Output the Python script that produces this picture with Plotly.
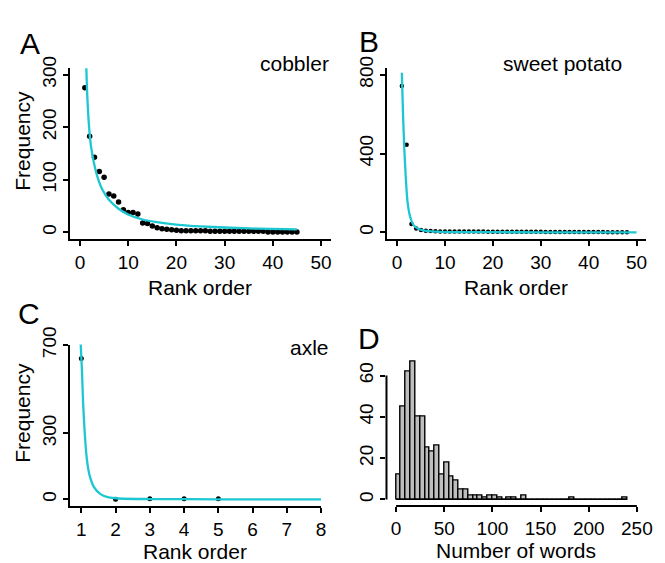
import plotly.graph_objects as go

W, H = 665, 563

# ---------------- data ----------------
# Panel A: cobbler
rank_a = list(range(1, 46))
freq_a = [275, 183, 143, 116, 105, 73, 69, 58, 43, 38,
          38, 35, 18, 17, 12, 9, 7, 6, 5, 4,
          3, 3, 3, 3, 3, 3, 2, 2, 2, 2,
          2, 2, 2, 2, 2, 2, 2, 2, 1, 1,
          1, 1, 1, 1, 1]
fit_a_x = [1.25, 1.5, 1.85, 2.25, 2.9, 3.6, 4.6, 6, 8, 10, 12.8, 16.3, 20.4, 25, 30, 37, 45]
fit_a_y = [330, 262, 205, 166, 132, 106, 82, 62, 45, 34, 25, 19, 14.5, 11.5, 9.3, 7.2, 5.8]

# Panel B: sweet potato
rank_b = list(range(1, 49))
freq_b = [742, 445, 43, 20, 12, 9, 7, 6, 5, 5,
          5, 4, 4, 4, 4, 4, 4, 4, 3, 3,
          3, 3, 3, 3, 3, 3, 3, 3, 3, 3,
          2, 2, 2, 2, 2, 2, 2, 2, 2, 2,
          2, 2, 2, 1, 1, 1, 1, 1]
fit_b_x = [1, 1.25, 1.5, 1.85, 2.2, 2.75, 3.45, 4.5, 6, 9, 15, 25, 35, 50]
fit_b_y = [810, 597, 432, 267, 152, 78, 37, 17, 8, 3, 1.5, 0.8, 0.5, 0.3]

# Panel C: axle
rank_c = [1, 2, 3, 4, 5]
freq_c = [640, 1, 3, 3, 3]
fit_c_x = [0.98, 1.02, 1.05, 1.1, 1.16, 1.24, 1.37, 1.56, 1.8, 2.1, 3, 5, 8]
fit_c_y = [710, 580, 445, 300, 185, 110, 56, 24, 9, 4, 1.5, 0.5, 0.3]

# Panel D: histogram of number of words (bin width 5)
bin_width = 5
bin_start = list(range(0, 240, 5))
bin_count = [12, 45, 62, 67, 40, 40, 25, 23, 26, 12,
             18, 11, 9, 5, 5, 2, 2, 2, 1, 2,
             2, 1, 0, 1, 1, 0, 2, 0, 0, 0,
             0, 0, 0, 0, 0, 0, 1, 0, 0, 0,
             0, 0, 0, 0, 0, 0, 0, 1]

labels = ["cobbler", "sweet potato", "axle"]
panel_letters = ["A", "B", "C", "D"]

# ---------------- style ----------------
CYAN = "#1CC7D2"
FONT = "Liberation Sans, Arial, sans-serif"
TICKF = 19
TITLEF = 21


def px(x):
    return x / W


def py(y):
    return 1 - y / H


fig = go.Figure()

# points + fits
for xa, ya, rk, fq, fx, fy, ms in [
    ("x", "y", rank_a, freq_a, fit_a_x, fit_a_y, 5.5),
    ("x2", "y2", rank_b, freq_b, fit_b_x, fit_b_y, 4.5),
    ("x3", "y3", rank_c, freq_c, fit_c_x, fit_c_y, 5),
]:
    fig.add_trace(go.Scatter(x=rk, y=fq, mode="markers", xaxis=xa, yaxis=ya,
                             marker=dict(color="black", size=ms), showlegend=False,
                             cliponaxis=False))
    fig.add_trace(go.Scatter(x=fx, y=fy, mode="lines", xaxis=xa, yaxis=ya,
                             line=dict(color=CYAN, width=2.3, shape="spline", smoothing=0.7),
                             showlegend=False))

# histogram
centers = [s + bin_width / 2 for s in bin_start]
fig.add_trace(go.Bar(x=centers, y=bin_count, width=bin_width, xaxis="x4", yaxis="y4",
                     marker=dict(color="#BEBEBE", line=dict(color="black", width=1.4)),
                     showlegend=False))
fig.add_trace(go.Scatter(x=[bin_start[0], bin_start[-1] + bin_width], y=[0, 0],
                         mode="lines", xaxis="x4", yaxis="y4",
                         line=dict(color="black", width=1.2), showlegend=False))

axis_common = dict(showgrid=False, zeroline=False, ticks="outside", ticklen=5,
                   tickwidth=2, tickcolor="black", linecolor="black", linewidth=2,
                   tickfont=dict(family=FONT, size=TICKF, color="black"))

# domains from pixel positions
dA_x = [px(71), px(333.7)]
dB_x = [px(391), px(652)]
dC_x = [px(71), px(324)]
dD_x = [px(390), px(652.4)]
dTop_y = [py(228), py(52)]
dC_y = [py(504), py(337.3)]
dD_y = [py(504), py(348.7)]

fig.update_layout(
    width=W, height=H, margin=dict(l=0, r=0, t=0, b=0),
    paper_bgcolor="white", plot_bgcolor="white", bargap=0,
    font=dict(family=FONT, color="black"),
    xaxis=dict(domain=dA_x, anchor="y", range=[-2, 52], tickvals=[0, 10, 20, 30, 40, 50],
               showline=True, **axis_common),
    yaxis=dict(domain=dTop_y, anchor="x", range=[-12, 312], tickvals=[0, 100, 200, 300],
               tickangle=-90, showline=True, **axis_common),
    xaxis2=dict(domain=dB_x, anchor="y2", range=[-2, 52], tickvals=[0, 10, 20, 30, 40, 50],
                showline=True, **axis_common),
    yaxis2=dict(domain=dTop_y, anchor="x2", range=[-32, 832], tickvals=[0, 400, 800],
                tickangle=-90, showline=True, **axis_common),
    xaxis3=dict(domain=dC_x, anchor="y3", range=[0.68, 8.0], tickvals=[1, 2, 3, 4, 5, 6, 7, 8],
                showline=True, **axis_common),
    yaxis3=dict(domain=dC_y, anchor="x3", range=[-29.5, 703], tickvals=[0, 300, 700],
                tickangle=-90, showline=True, **axis_common),
    xaxis4=dict(domain=dD_x, anchor="y4", range=[-10, 260], tickvals=[0, 50, 100, 150, 200, 250],
                showline=False, **axis_common),
    yaxis4=dict(domain=dD_y, anchor="x4", range=[-3.1, 69.7], tickvals=[0, 20, 40, 60],
                tickangle=-90, showline=False, **axis_common),
)

# axis lines of panel D spanning the tick range only (R axis() style)
fig.add_shape(type="line", xref="x4", yref="y4 domain", x0=0, x1=250, y0=0, y1=0,
              line=dict(color="black", width=2))
fig.add_shape(type="line", xref="x4 domain", yref="y4", x0=0, x1=0, y0=0, y1=60,
              line=dict(color="black", width=2))

ann = []
# panel letters
for letter, (x, y) in zip(panel_letters, [(30, 26), (372, 24), (29, 305), (372, 331)]):
    ann.append(dict(text=letter, x=px(x), y=py(y), xref="paper", yref="paper",
                    showarrow=False, font=dict(size=30, family=FONT), xanchor="center", yanchor="middle"))
# word labels
for txt, (x, y) in zip(labels, [(334, 47), (630, 47), (334, 340)]):
    ann.append(dict(text=txt, x=px(x), y=py(y), xref="paper", yref="paper",
                    showarrow=False, font=dict(size=21, family=FONT), xanchor="right", yanchor="middle"))
# axis titles
for txt, (x, y) in [("Rank order", (202, 278)), ("Rank order", (521, 278)),
                    ("Rank order", (197, 551)), ("Number of words", (521, 550))]:
    ann.append(dict(text=txt, x=px(x), y=py(y), xref="paper", yref="paper",
                    showarrow=False, font=dict(size=TITLEF, family=FONT), xanchor="center", yanchor="middle"))
for y in [127, 408]:
    ann.append(dict(text="Frequency", x=px(23), y=py(y), xref="paper", yref="paper",
                    showarrow=False, textangle=-90, font=dict(size=TITLEF, family=FONT),
                    xanchor="center", yanchor="middle"))
fig.update_layout(annotations=ann)

fig.write_html("out.html", config={"displayModeBar": False},
               post_script="document.body.style.margin='0';")
